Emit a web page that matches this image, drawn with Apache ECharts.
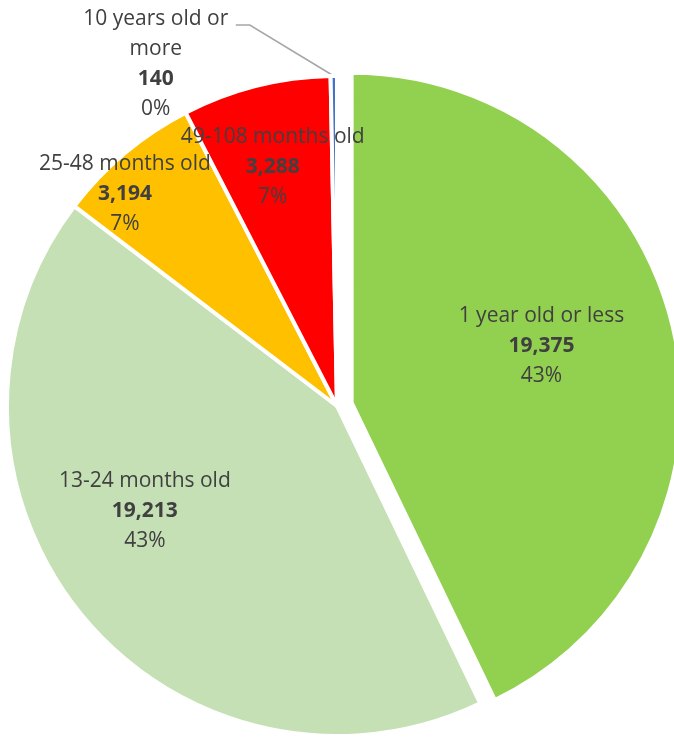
<!DOCTYPE html>
<html>
<head>
<meta charset="utf-8">
<script src="https://cdn.jsdelivr.net/npm/echarts@6/dist/echarts.min.js"></script>
<style>
  html, body { margin: 0; padding: 0; background: #fff; }
  #chart { width: 674px; height: 737px; }
</style>
</head>
<body>
<div id="chart"></div>
<script>
  // data
  const categories = ['1 year old or less', '13-24 months old', '25-48 months old', '49-108 months old', '10 years old or more'];
  const counts = [19375, 19213, 3194, 3288, 140];

  const colors = ['#92d050', '#c5e0b4', '#ffc000', '#ff0000', '#4472c4'];
  // label nudges from the default inside spot (Excel places them further out)
  const nudges = [[26, -19], [-62, -1], [-104, -83], [-23, -76]];

  const chart = echarts.init(document.getElementById('chart'));
  const font = '"Open Sans", Lato, sans-serif';
  const fs = 21;

  const option = {
    animation: false,
    series: [
      {
        type: 'pie',
        center: [337, 406],
        radius: [0, 330],
        startAngle: 90,
        clockwise: true,
        selectedMode: 'single',
        selectedOffset: 15,
        avoidLabelOverlap: false,
        percentPrecision: 0,
        itemStyle: { borderColor: '#fff', borderWidth: 4 },
        emphasis: { disabled: true },
        label: {
          show: true,
          position: 'inside',
          fontFamily: font,
          color: '#404040',
          formatter: (p) =>
            '{n|' + p.name + '}\n{v|' + p.value.toLocaleString('en-US') + '}\n{p|' + Math.round(p.percent) + '%}',
          rich: {
            n: { fontFamily: font, fontSize: fs, color: '#404040', lineHeight: 30, align: 'center' },
            v: { fontFamily: font, fontSize: fs, color: '#404040', fontWeight: 'bold', lineHeight: 30, align: 'center' },
            p: { fontFamily: font, fontSize: fs, color: '#404040', lineHeight: 30, align: 'center' },
          },
        },
        labelLayout: (params) => {
          const i = params.dataIndex;
          if (i < nudges.length) {
            return { dx: nudges[i][0], dy: nudges[i][1] };
          }
          const s = params.labelLinePoints ? params.labelLinePoints[0] : [334, 76];
          return {
            x: s[0] - 178,
            y: s[1] - 12,
            align: 'center',
            verticalAlign: 'middle',
            labelLinePoints: [s, [s[0] - 84, s[1] - 51], [s[0] - 98, s[1] - 51]],
          };
        },
        data: categories.map((name, i) => {
          const item = { name, value: counts[i], itemStyle: { color: colors[i] } };
          if (i === 0) item.selected = true;
          if (i === 4) {
            item.label = { position: 'outside' };
            item.labelLine = { show: true, lineStyle: { color: '#a6a6a6', width: 1.5 } };
          }
          return item;
        }),
      },
    ],
  };
  option.series[0].data[4].label.formatter = (p) =>
    '{n|10 years old or}\n{n|more}\n{v|' + p.value.toLocaleString('en-US') + '}\n{p|' + Math.round(p.percent) + '%}';
  chart.setOption(option);
</script>
</body>
</html>
